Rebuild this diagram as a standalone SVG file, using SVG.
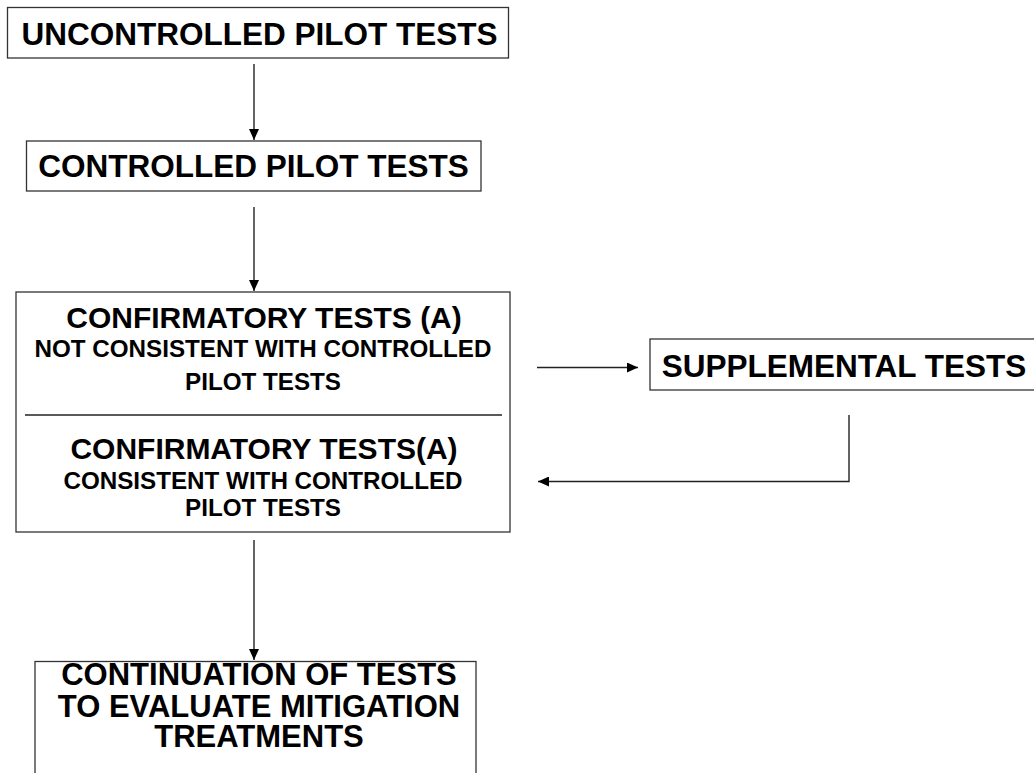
<svg xmlns="http://www.w3.org/2000/svg" width="1034" height="773" viewBox="0 0 1034 773">
<style>
.box{fill:#fff;stroke:#333;stroke-width:1.3}
.t{font-family:"Liberation Sans",Arial,sans-serif;font-weight:bold;fill:#000;text-anchor:middle}
.big{font-size:31.5px}
.mid{font-size:30px}
.bot{font-size:31px}
.sm{font-size:24.2px}
.c{stroke:#222;stroke-width:1.4;fill:none}
</style>
<defs>
<marker id="ah" viewBox="0 0 11 10" refX="11" refY="5" markerWidth="11" markerHeight="10" markerUnits="userSpaceOnUse" orient="auto">
<path d="M0,0 L11,5 L0,10 Z" fill="#000"/>
</marker>
</defs>
<rect width="1034" height="773" fill="#fff"/>
<g id="connectors">
<line class="c" x1="254" y1="64" x2="254" y2="140" marker-end="url(#ah)"/>
<line class="c" x1="254" y1="207" x2="254" y2="291" marker-end="url(#ah)"/>
<line class="c" x1="537" y1="367.5" x2="638" y2="367.5" marker-end="url(#ah)"/>
<polyline class="c" points="849,415 849,481.5 538,481.5" marker-end="url(#ah)"/>
<line class="c" x1="254" y1="540" x2="254" y2="660" marker-end="url(#ah)"/>
</g>
<g id="uncontrolled">
<rect class="box" x="7.5" y="7.5" width="501" height="50.5"/>
<text class="t big" x="259.5" y="45">UNCONTROLLED PILOT TESTS</text>
</g>
<g id="controlled">
<rect class="box" x="26.5" y="141" width="454.5" height="50"/>
<text class="t big" x="253.5" y="177">CONTROLLED PILOT TESTS</text>
</g>
<g id="confirmatory">
<rect class="box" x="16" y="292" width="494" height="240"/>
<line class="c" x1="25" y1="415" x2="502" y2="415"/>
<text class="t mid" x="264" y="328">CONFIRMATORY TESTS (A)</text>
<text class="t sm" x="263" y="357">NOT CONSISTENT WITH CONTROLLED</text>
<text class="t sm" x="263" y="390">PILOT TESTS</text>
<text class="t mid" x="264" y="459">CONFIRMATORY TESTS(A)</text>
<text class="t sm" x="263" y="489">CONSISTENT WITH CONTROLLED</text>
<text class="t sm" x="263" y="515.5">PILOT TESTS</text>
</g>
<g id="supplemental">
<rect class="box" x="650" y="339" width="400" height="51"/>
<text class="t big" x="844" y="376.5">SUPPLEMENTAL TESTS</text>
</g>
<g id="continuation">
<rect class="box" x="35" y="661.5" width="441" height="130"/>
<text class="t bot" x="259" y="685">CONTINUATION OF TESTS</text>
<text class="t bot" x="259" y="716.5">TO EVALUATE MITIGATION</text>
<text class="t bot" x="259" y="746.5">TREATMENTS</text>
</g>
</svg>
